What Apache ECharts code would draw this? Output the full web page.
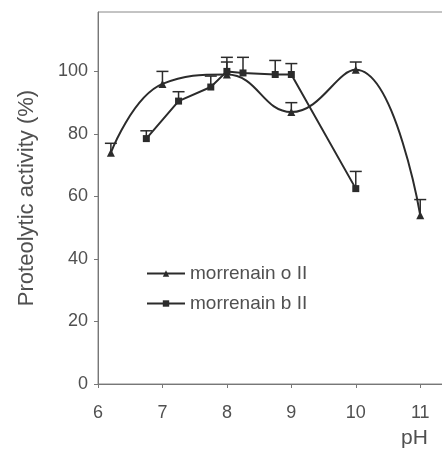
<!DOCTYPE html>
<html>
<head>
<meta charset="utf-8">
<style>
  html, body { margin: 0; padding: 0; background: #fff; }
  #chart { width: 442px; height: 450px; }
</style>
<script src="https://cdn.jsdelivr.net/npm/echarts@6/dist/echarts.min.js"></script>
</head>
<body>
<div id="chart"></div>
<script>
// data
const phO = [6.2, 7, 8, 9, 10, 11];
const actO = [74, 96, 99, 87, 100.5, 54];
const errO = [3, 4, 4, 3, 2.5, 5];

const phB = [6.75, 7.25, 7.75, 8, 8.25, 8.75, 9, 10];
const actB = [78.5, 90.5, 95, 100, 99.5, 99, 99, 62.5];
const errB = [2.5, 3, 3.5, 4.5, 5, 4.5, 3.5, 5.5];

const xTicks = [6, 7, 8, 9, 10, 11];
const yTicks = [0, 20, 40, 60, 80, 100];

const ink = '#2b2b2b';
const grey = '#505050';
const font = 'Liberation Sans, Arial, sans-serif';

function pairs(xs, ys) {
    return xs.map((x, i) => [x, ys[i]]);
}

// error bars (upper only, T-shaped)
function errorSeries(xs, ys, es) {
    return {
        type: 'custom',
        silent: true,
        z: 1,
        data: xs.map((x, i) => [x, ys[i], ys[i] + es[i]]),
        renderItem: function(params, api) {
            const p0 = api.coord([api.value(0), api.value(1)]);
            const p1 = api.coord([api.value(0), api.value(2)]);
            const half = 6;
            const style = { stroke: ink, lineWidth: 1.5 };
            return {
                type: 'group',
                children: [
                    { type: 'line', shape: { x1: p0[0], y1: p0[1], x2: p1[0], y2: p1[1] }, style: style },
                    { type: 'line', shape: { x1: p1[0] - half, y1: p1[1], x2: p1[0] + half, y2: p1[1] }, style: style }
                ]
            };
        }
    };
}

const chart = echarts.init(document.getElementById('chart'));
chart.setOption({
    animation: false,
    textStyle: { fontFamily: font },
    grid: {
        left: 98, top: 12, width: 348, bottom: 66,
        outerBoundsMode: 'none',
        show: true, borderColor: '#888', borderWidth: 1
    },
    legend: {
        left: 141, top: 259,
        orient: 'vertical',
        itemGap: 11,
        itemWidth: 38,
        itemHeight: 8,
        textStyle: { fontFamily: font, fontSize: 19, color: grey },
        data: ['morrenain o II', 'morrenain b II']
    },
    xAxis: {
        type: 'value',
        min: 6, max: 11.4, interval: 1,
        axisLine: { lineStyle: { color: '#777' } },
        axisTick: { show: true, length: 4, lineStyle: { color: '#777' } },
        splitLine: { show: false },
        axisLabel: {
            margin: 20, fontSize: 18, color: grey, fontFamily: font,
            showMaxLabel: false,
            formatter: v => (xTicks.indexOf(v) >= 0 ? String(v) : '')
        }
    },
    yAxis: {
        type: 'value',
        min: 0, max: 119, interval: 20,
        name: 'Proteolytic activity (%)',
        nameLocation: 'middle',
        nameGap: 60,
        nameTextStyle: { fontSize: 22, color: grey, fontFamily: font },
        axisLine: { show: true, lineStyle: { color: '#777' } },
        axisTick: { show: true, length: 4, lineStyle: { color: '#777' } },
        splitLine: { show: false },
        axisLabel: {
            margin: 10, fontSize: 18, color: grey, fontFamily: font,
            showMaxLabel: false,
            formatter: v => (yTicks.indexOf(v) >= 0 ? String(v) : '')
        }
    },
    graphic: [{
        type: 'text', left: 401, top: 428,
        style: { text: 'pH', fontSize: 21, fill: grey, fontFamily: font }
    }],
    series: [
        {
            name: 'morrenain o II',
            type: 'line',
            smooth: 0.45,
            symbol: 'triangle',
            symbolSize: 8,
            z: 3,
            lineStyle: { color: ink, width: 2 },
            itemStyle: { color: ink },
            data: pairs(phO, actO)
        },
        {
            name: 'morrenain b II',
            type: 'line',
            smooth: false,
            symbol: 'rect',
            symbolSize: 7,
            z: 3,
            lineStyle: { color: ink, width: 2 },
            itemStyle: { color: ink },
            data: pairs(phB, actB)
        },
        errorSeries(phO, actO, errO),
        errorSeries(phB, actB, errB)
    ]
});
</script>
</body>
</html>
